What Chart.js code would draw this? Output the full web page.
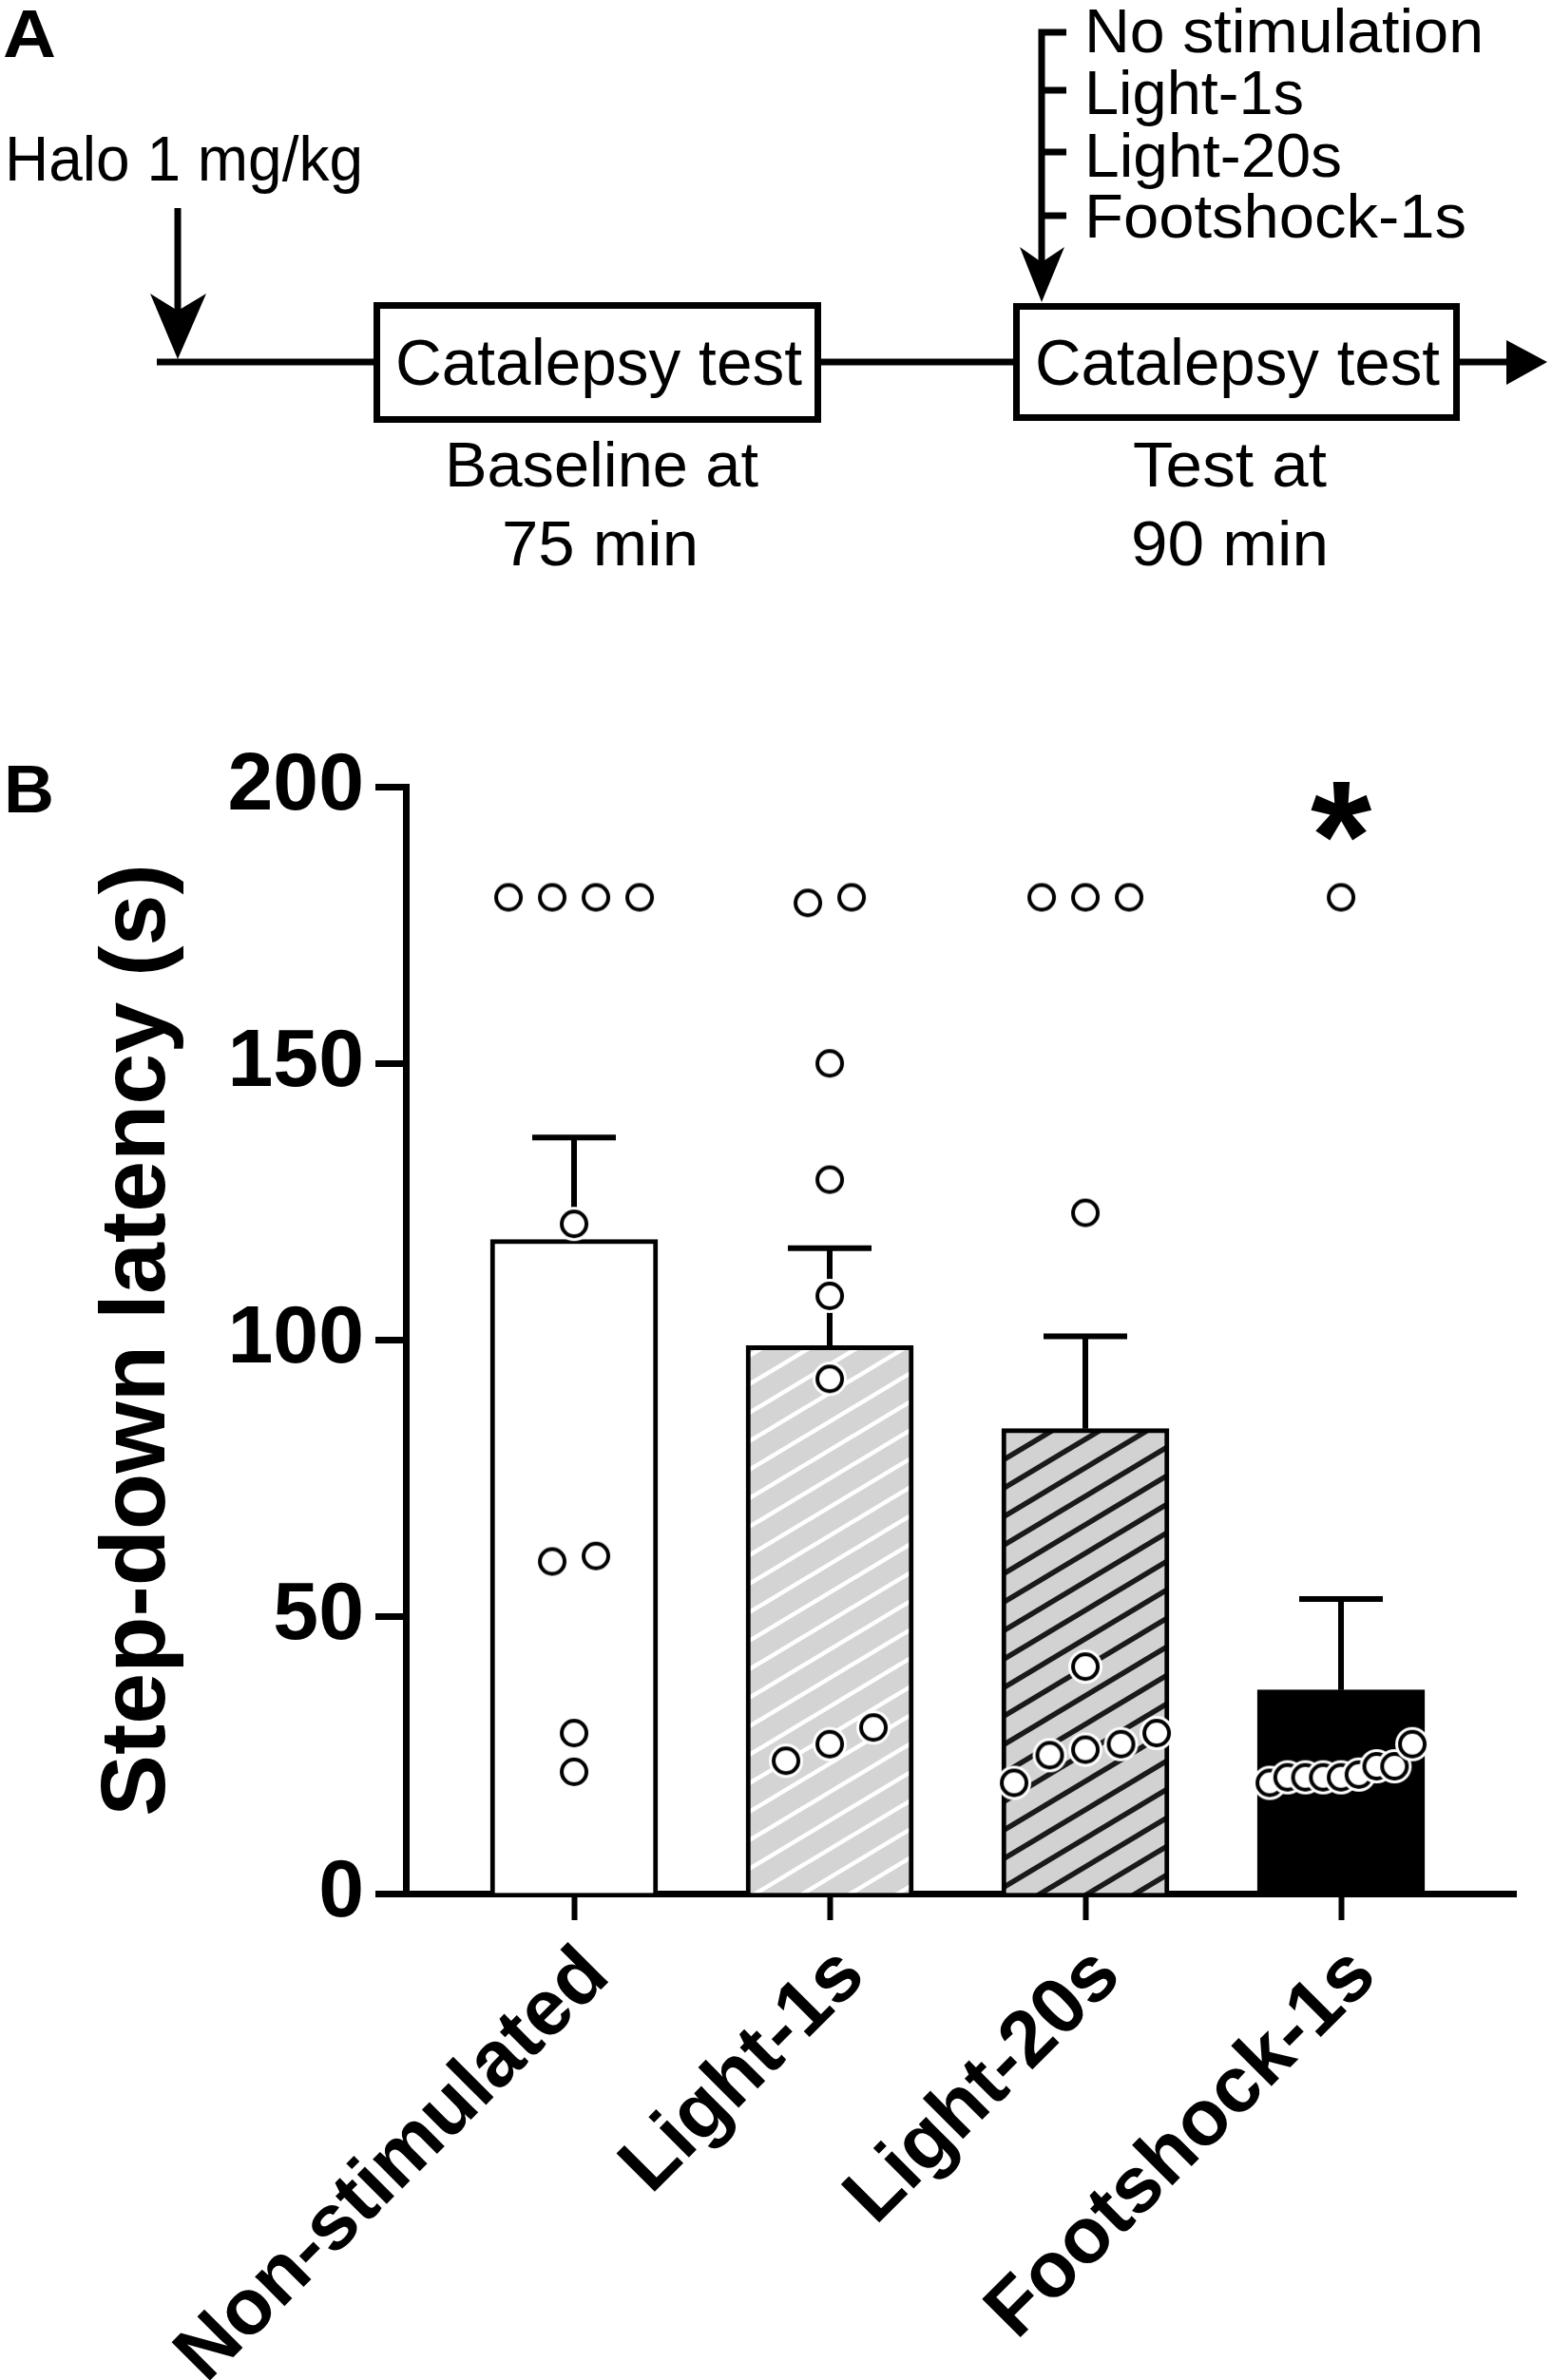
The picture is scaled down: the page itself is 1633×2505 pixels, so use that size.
<!DOCTYPE html>
<html>
<head>
<meta charset="utf-8">
<title>Catalepsy test</title>
<script src="https://cdn.jsdelivr.net/npm/chart.js@4.4.1/dist/chart.umd.min.js"></script>
<style>
  html, body { margin: 0; padding: 0; background: #fff; }
  #page { position: relative; width: 1633px; height: 2505px; overflow: hidden; }
  #panelB { position: absolute; left: 0; top: 700px; width: 1633px; height: 1805px; }
  #panelA { position: absolute; left: 0; top: 0; z-index: 2; }
</style>
</head>
<body>
<div id="page">
  <div id="panelB"><canvas id="chart" width="1633" height="1805"></canvas></div>

  <!-- panel A: protocol timeline -->
  <svg id="panelA" width="1633" height="900" viewBox="0 0 1633 900">
    <g font-family="'Liberation Sans', Arial, Helvetica, sans-serif" fill="#000">
      <text x="3" y="60" font-size="70" font-weight="bold" textLength="56" lengthAdjust="spacingAndGlyphs">A</text>
      <text x="4" y="855" font-size="70" font-weight="bold" textLength="53" lengthAdjust="spacingAndGlyphs">B</text>
      <text x="5" y="190" font-size="67" textLength="377" lengthAdjust="spacingAndGlyphs">Halo 1 mg/kg</text>
      <text x="416" y="405" font-size="69" textLength="428" lengthAdjust="spacingAndGlyphs">Catalepsy test</text>
      <text x="1089" y="405" font-size="69" textLength="426" lengthAdjust="spacingAndGlyphs">Catalepsy test</text>
      <text x="468" y="512" font-size="66" textLength="330" lengthAdjust="spacingAndGlyphs">Baseline at</text>
      <text x="528" y="595" font-size="66" textLength="207" lengthAdjust="spacingAndGlyphs">75 min</text>
      <text x="1192" y="512" font-size="66" textLength="204" lengthAdjust="spacingAndGlyphs">Test at</text>
      <text x="1190" y="595" font-size="66" textLength="208" lengthAdjust="spacingAndGlyphs">90 min</text>
      <text x="1141" y="55" font-size="65" textLength="420" lengthAdjust="spacingAndGlyphs">No stimulation</text>
      <text x="1141" y="120" font-size="65" textLength="231" lengthAdjust="spacingAndGlyphs">Light-1s</text>
      <text x="1141" y="186" font-size="65" textLength="271" lengthAdjust="spacingAndGlyphs">Light-20s</text>
      <text x="1141" y="250" font-size="65" textLength="402" lengthAdjust="spacingAndGlyphs">Footshock-1s</text>
    </g>
    <g stroke="#000" stroke-width="7" fill="none">
      <line x1="165" y1="381" x2="396" y2="381"/>
      <line x1="861" y1="381" x2="1069" y2="381"/>
      <line x1="1533" y1="381" x2="1592" y2="381"/>
      <rect x="396.5" y="321.5" width="464" height="120"/>
      <rect x="1069.5" y="322.5" width="463" height="117"/>
      <line x1="187" y1="219" x2="187" y2="330"/>
      <polyline points="1122,34 1096,34 1096,280"/>
      <line x1="1096" y1="95" x2="1122" y2="95"/>
      <line x1="1096" y1="160" x2="1122" y2="160"/>
      <line x1="1096" y1="227" x2="1122" y2="227"/>
    </g>
    <g fill="#000">
      <polygon points="158,309 187,327 217,309 187,378"/>
      <polygon points="1073,260 1096,276 1120,260 1096,318"/>
      <polygon points="1585,358 1628,381 1585,405"/>
    </g>
  </svg>
</div>

<script>
// --- data ---
const groups = ['Non-stimulated', 'Light-1s', 'Light-20s', 'Footshock-1s'];
const means = [118.2, 99.0, 84.0, 36.8];
const sems = [18.4, 17.6, 16.7, 16.4];

const nonStim = [180, 180, 180, 180, 121, 61, 60, 29, 22];
const light1s = [180, 179, 150, 129, 108, 93, 30, 27, 24];
const light20s = [180, 180, 180, 123, 41, 29, 27, 26, 25, 20];
const footshock = [180, 27, 23, 23, 21.5, 21, 21, 21, 21, 20];
const individual = [nonStim, light1s, light20s, footshock];

const yTicks = [0, 50, 100, 150, 200];
const sigMarks = ['', '', '', '*'];

const FONT = "'Liberation Sans', Arial, Helvetica, sans-serif";
const DOT_D = 30;

const canvas = document.getElementById('chart');
const ctx = canvas.getContext('2d');

// diagonal hatch used by the two light groups
function hatch(bg, fg, w) {
    const c = document.createElement('canvas');
    c.width = 50; c.height = 30;
    const g = c.getContext('2d');
    g.fillStyle = bg;
    g.fillRect(0, 0, 50, 30);
    g.strokeStyle = fg;
    g.lineWidth = w;
    for (let k = -1; k <= 2; k++) {
        g.beginPath();
        g.moveTo(-10, 30 * k + 6);
        g.lineTo(60, 30 * k - 36);
        g.stroke();
    }
    return ctx.createPattern(c, 'repeat');
}

// open circle with a thin white halo
function makeDot() {
    const c = document.createElement('canvas');
    c.width = 40; c.height = 40;
    const g = c.getContext('2d');
    g.fillStyle = '#fff';
    g.beginPath(); g.arc(20, 20, 18, 0, Math.PI * 2); g.fill();
    g.beginPath(); g.arc(20, 20, 13, 0, Math.PI * 2); g.fill();
    g.lineWidth = 4; g.strokeStyle = '#000'; g.stroke();
    return c;
}

const barFills = ['#ffffff', hatch('#d4d4d4', '#ffffff', 4.5), hatch('#d2d2d2', '#1a1a1a', 5.5), '#000000'];

// spread near-equal values side by side (simple swarm)
function swarm(vals, gi, chart) {
    const xs = chart.scales.x, ys = chart.scales.y;
    const unitX = xs.getPixelForValue(2) - xs.getPixelForValue(1);
    const sorted = vals.slice().sort((a, b) => a - b);
    const rows = [];
    sorted.forEach(v => {
        const last = rows[rows.length - 1];
        if (last && Math.abs(ys.getPixelForValue(v) - ys.getPixelForValue(last[last.length - 1])) < DOT_D) last.push(v);
        else rows.push([v]);
    });
    const pts = [];
    rows.forEach(r => {
        const step = Math.min(46, 150 / Math.max(1, r.length - 1));
        r.forEach((v, k) => pts.push({ x: gi + 1 + (k - (r.length - 1) / 2) * step / unitX, y: v }));
    });
    return pts;
}

const errorBars = {
    id: 'errorBars',
    beforeDatasetDraw(chart, args) {
        if (args.index !== 1) return;
        const { ctx, scales: { x, y } } = chart;
        ctx.save();
        ctx.strokeStyle = '#000';
        ctx.lineWidth = 6;
        means.forEach((m, i) => {
            const px = x.getPixelForValue(i + 1);
            const top = y.getPixelForValue(m + sems[i]);
            ctx.beginPath();
            ctx.moveTo(px, y.getPixelForValue(m));
            ctx.lineTo(px, top);
            ctx.moveTo(px - 44, top);
            ctx.lineTo(px + 44, top);
            ctx.stroke();
        });
        ctx.restore();
    }
};

const sigLabels = {
    id: 'sigLabels',
    afterDatasetsDraw(chart) {
        const { ctx, scales: { x, y } } = chart;
        ctx.save();
        ctx.fillStyle = '#000';
        ctx.font = 'bold 165px ' + FONT;
        ctx.textAlign = 'center';
        ctx.textBaseline = 'alphabetic';
        sigMarks.forEach((s, i) => {
            if (!s) return;
            const top = y.getPixelForValue(Math.max(...individual[i]));
            ctx.fillText(s, x.getPixelForValue(i + 1), top - 8);
        });
        ctx.restore();
    }
};

const chart = new Chart(canvas, {
    type: 'bar',
    data: {
        datasets: [
            {
                type: 'bar',
                data: means.map((m, i) => ({ x: i + 1, y: m })),
                backgroundColor: barFills,
                borderColor: '#000',
                borderWidth: 5,
                borderSkipped: 'bottom',
                barThickness: 176,
                order: 2
            },
            {
                type: 'scatter',
                data: [],
                pointStyle: makeDot(),
                pointRadius: 15,
                showLine: false,
                order: 1
            }
        ]
    },
    options: {
        responsive: false,
        devicePixelRatio: 1,
        animation: false,
        layout: { padding: { left: 0, right: 38, top: 128, bottom: 0 } },
        plugins: { legend: { display: false }, tooltip: { enabled: false } },
        scales: {
            x: {
                type: 'linear',
                offset: false,
                min: 0.342,
                max: 4.684,
                afterBuildTicks: s => { s.ticks = groups.map((g, i) => ({ value: i + 1 })); },
                afterFit: s => { s.height = 512; },
                grid: { display: true, offset: false, drawOnChartArea: false, tickLength: 28, tickWidth: 6, tickColor: '#000' },
                border: { display: true, width: 7, color: '#000' },
                ticks: {
                    autoSkip: false,
                    minRotation: 45,
                    maxRotation: 45,
                    padding: 10,
                    labelOffset: 24,
                    color: '#000',
                    font: { family: FONT, size: 83, weight: 'bold' },
                    callback: v => groups[v - 1]
                }
            },
            y: {
                min: 0,
                max: 200,
                afterBuildTicks: s => { s.ticks = yTicks.map(v => ({ value: v })); },
                afterFit: s => { s.width = 427; },
                grid: { display: true, drawOnChartArea: false, tickLength: 32, tickWidth: 7, tickColor: '#000' },
                border: { display: true, width: 7, color: '#000' },
                ticks: {
                    padding: 12,
                    color: '#000',
                    font: { family: FONT, size: 86, weight: 'bold' }
                },
                title: {
                    display: true,
                    text: 'Step-down latency (s)',
                    color: '#000',
                    font: { family: FONT, size: 97, weight: 'bold' },
                    padding: { top: 88, bottom: 0 }
                }
            }
        }
    },
    plugins: [errorBars, sigLabels]
});

chart.data.datasets[1].data = individual.flatMap((vals, gi) => swarm(vals, gi, chart));
chart.update('none');
</script>
</body>
</html>
